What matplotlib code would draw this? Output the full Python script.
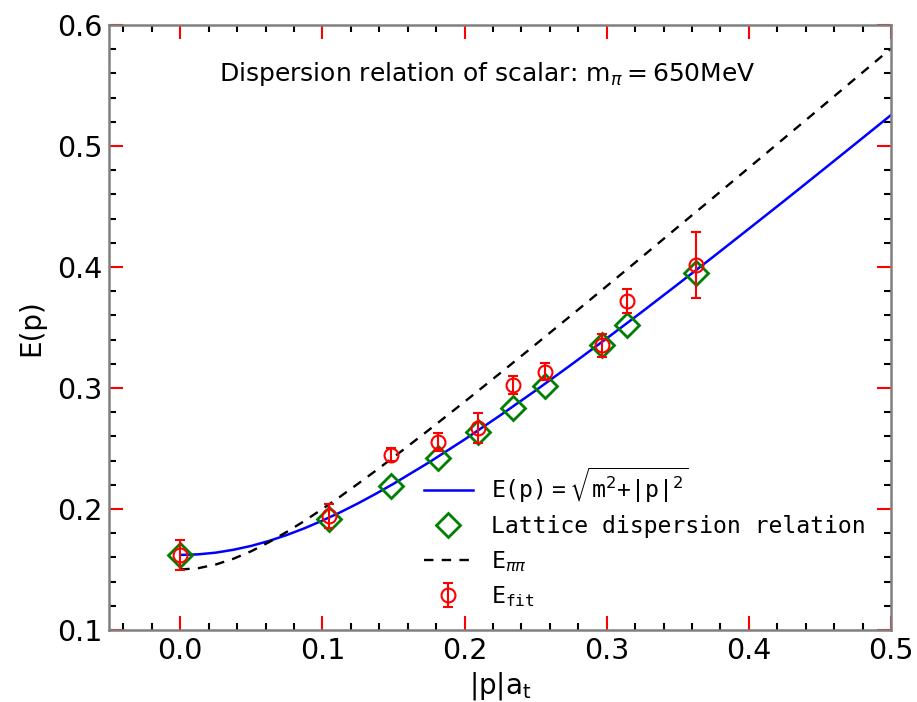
import matplotlib
matplotlib.use("Agg")
import matplotlib.pyplot as plt
from matplotlib.ticker import MultipleLocator

# curves
p_curve = [0.0, 0.0125, 0.025, 0.0375, 0.05, 0.0625, 0.075, 0.0875, 0.1, 0.1125,
           0.125, 0.1375, 0.15, 0.175, 0.2, 0.225, 0.25, 0.275, 0.3, 0.325, 0.35,
           0.375, 0.4, 0.425, 0.45, 0.475, 0.5]
e_cont = [0.1620, 0.1625, 0.1639, 0.1663, 0.1695, 0.1736, 0.1785, 0.1841, 0.1904,
          0.1972, 0.2046, 0.2125, 0.2208, 0.2385, 0.2574, 0.2773, 0.2979, 0.3192,
          0.3410, 0.3631, 0.3857, 0.4085, 0.4316, 0.4548, 0.4783, 0.5019, 0.5256]
e_pipi = [0.1500, 0.1510, 0.1541, 0.1589, 0.1651, 0.1726, 0.1811, 0.1902, 0.2000,
          0.2102, 0.2208, 0.2316, 0.2427, 0.2654, 0.2886, 0.3122, 0.3360, 0.3600,
          0.3842, 0.4085, 0.4330, 0.4574, 0.4820, 0.5066, 0.5312, 0.5559, 0.5806]

# lattice momenta
p_lat = [0.0, 0.1048, 0.1482, 0.1815, 0.2096, 0.2343, 0.2567, 0.2964, 0.3144, 0.3630]
e_lat = [0.1620, 0.1921, 0.2186, 0.2418, 0.2639, 0.2835, 0.3014, 0.3359, 0.3517, 0.3947]

# fitted energies
e_fit = [0.1620, 0.1940, 0.2450, 0.2552, 0.2670, 0.3026, 0.3135, 0.3355, 0.3721, 0.4015]
e_err = [0.0127, 0.0100, 0.0055, 0.0076, 0.0126, 0.0072, 0.0073, 0.0095, 0.0099, 0.0275]

fig = plt.figure(figsize=(9.17, 7.02), dpi=100)
ax = fig.add_axes([0.119, 0.1026, 0.8527, 0.8618])

ax.plot(p_curve, e_cont, color='blue', lw=1.8,
        label=r'$\mathtt{E(p)=}\sqrt{\mathtt{m}^{2}\mathtt{+|p|}^{2}}$')
ax.plot(p_lat, e_lat, linestyle='none', marker='D', ms=12, mfc='none',
        mec='green', mew=2, label='Lattice dispersion relation')
ax.plot(p_curve, e_pipi, color='black', lw=1.7, dashes=(4, 3.5),
        label=r'$\mathtt{E}_{\pi\pi}$')
ax.errorbar(p_lat, e_fit, yerr=e_err, fmt='o', ms=10, mfc='none', mec='red',
            mew=1.5, ecolor='red', elinewidth=1.5, capsize=3.6, capthick=1.5,
            label=r'$\mathtt{E}_{\mathtt{fit}}$')

ax.set_xlim(-0.05, 0.5)
ax.set_ylim(0.1, 0.6)
ax.xaxis.set_major_locator(MultipleLocator(0.1))
ax.xaxis.set_minor_locator(MultipleLocator(0.02))
ax.yaxis.set_major_locator(MultipleLocator(0.1))
ax.yaxis.set_minor_locator(MultipleLocator(0.02))
ax.tick_params(which='both', direction='in', top=True, right=True)
ax.tick_params(which='major', length=10, width=1.5, color='red', labelsize=20.5, pad=5)
ax.tick_params(which='minor', length=5, width=1.5, color='black')
for s in ax.spines.values():
    s.set_color('#808080')
    s.set_linewidth(1.8)

ax.set_xlabel(r'$\mathregular{|p|a_t}$', fontsize=20, labelpad=4)
ax.set_ylabel('E(p)', fontsize=20, labelpad=8)

ax.text(0.484, 0.919, r'Dispersion relation of scalar: $\mathrm{m}_{\pi}=650$MeV',
        transform=ax.transAxes, ha='center', va='center', fontsize=18)

ax.legend(loc='lower left', bbox_to_anchor=(0.376, 0.0), frameon=False,
          prop={'family': 'DejaVu Sans Mono', 'size': 16.7},
          handlelength=2.1, handletextpad=0.8, labelspacing=0.45)

fig.savefig('out.png', dpi=100)
